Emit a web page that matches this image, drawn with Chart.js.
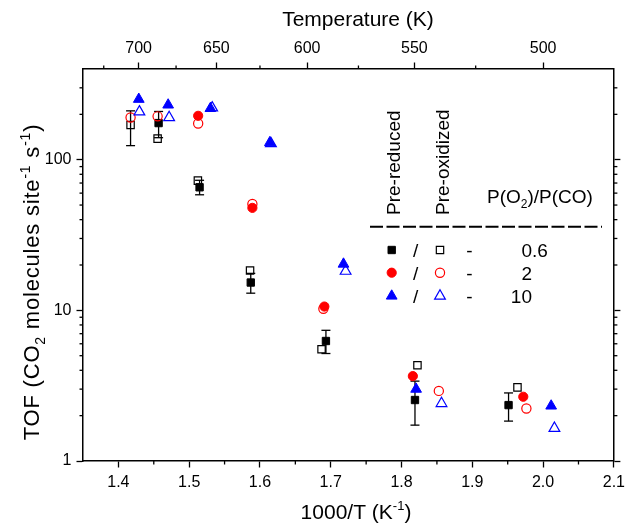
<!DOCTYPE html>
<html><head><meta charset="utf-8">
<script src="https://cdn.jsdelivr.net/npm/chart.js@4.4.1/dist/chart.umd.min.js"></script>
<style>html,body{margin:0;padding:0;background:#fff}#c{display:block}</style>
</head><body>
<canvas id="c" width="630" height="523"></canvas>
<script>
const FONT = '"Liberation Sans", Arial, Helvetica, sans-serif';

// ---- data (1000/T in K^-1, TOF in CO2 molecules site^-1 s^-1) ----
// Pre-reduced (filled symbols) / Pre-oxidized (open symbols)
const sqFilledX = [1.4568, 1.5147, 1.587, 1.6932, 1.819, 1.9512];
const sqFilledY = [175, 65.6, 15.3, 6.26, 2.54, 2.35];
const sqOpenX = [1.4172, 1.4554, 1.5123, 1.586, 1.687, 1.8225, 1.9638];
const sqOpenY = [170, 138, 72.6, 18.4, 5.52, 4.32, 3.08];
const circFilledX = [1.5127, 1.5893, 1.691, 1.816, 1.972];
const circFilledY = [195.6, 47.9, 10.6, 3.66, 2.67];
const circOpenX = [1.4172, 1.4554, 1.5127, 1.5893, 1.6896, 1.8527, 1.9764];
const circOpenY = [190.6, 194, 174, 50.9, 10.25, 2.92, 2.23];
const triFilledX = [1.4288, 1.4703, 1.530, 1.614, 1.718, 1.8206, 2.0114];
const triFilledY = [252, 231, 219, 130, 20.3, 3.0, 2.32];
const triOpenX = [1.4297, 1.4717, 1.5325, 1.6155, 1.721, 1.8565, 2.016];
const triOpenY = [208, 190.6, 221, 128, 18.2, 2.41, 1.65];
// error bars
const errX = [1.4172, 1.4568, 1.5147, 1.587, 1.6932, 1.819, 1.9512];
const errLow = [124, 140, 58.5, 13.0, 5.17, 1.73, 1.84];
const errHigh = [211, 209, 73, 17.6, 7.37, 3.39, 2.83];

// ---- ticks ----
const xTicks = [1.4, 1.5, 1.6, 1.7, 1.8, 1.9, 2.0, 2.1];
const xMinor = [1.45, 1.55, 1.65, 1.75, 1.85, 1.95, 2.05];
const tempTicks = [700, 650, 600, 550, 500];
const tempMinor = [725, 675, 625, 575, 525];
const yTicks = [1, 10, 100];
const yMinor = [2, 3, 4, 5, 6, 7, 8, 9, 20, 30, 40, 50, 60, 70, 80, 90, 200, 300];
const legendRatios = ['0.6', '2', '10'];

const X_MIN = 1.35, X_MAX = 2.1, Y_MIN = 1, Y_MAX = 400;

function pts(xs, ys) { return xs.map((x, i) => ({ x: x, y: ys[i] })); }

const BLACK = '#000000', RED = '#ff0000', BLUE = '#0000ff';
const R_SQ = 5.2, R_CI = 4.6, R_TR = 6.2;

function ds(label, xs, ys, style, color, filled, r, order) {
  return {
    label: label, data: pts(xs, ys), pointStyle: style, pointRadius: r,
    pointBorderColor: color, pointBackgroundColor: filled ? color : 'rgba(0,0,0,0)',
    pointBorderWidth: filled ? 1 : 1.2, showLine: false, order: order
  };
}

const datasets = [
  ds('Pre-oxidized 0.6', sqOpenX, sqOpenY, 'rect', BLACK, false, R_SQ, 6),
  ds('Pre-reduced 0.6', sqFilledX, sqFilledY, 'rect', BLACK, true, R_SQ, 5),
  ds('Pre-oxidized 2', circOpenX, circOpenY, 'circle', RED, false, R_CI, 4),
  ds('Pre-reduced 2', circFilledX, circFilledY, 'circle', RED, true, R_CI, 3),
  ds('Pre-oxidized 10', triOpenX, triOpenY, 'triangle', BLUE, false, R_TR, 2),
  ds('Pre-reduced 10', triFilledX, triFilledY, 'triangle', BLUE, true, R_TR, 1)
];

function line(ctx, x1, y1, x2, y2) { ctx.beginPath(); ctx.moveTo(x1, y1); ctx.lineTo(x2, y2); ctx.stroke(); }

// rich text: segments [text, kind] kind: n / sub / sup
function richWidth(ctx, segs, size) {
  let w = 0;
  segs.forEach(s => { ctx.font = (s[1] === 'n' ? size : Math.round(size * 0.62)) + 'px ' + FONT; w += ctx.measureText(s[0]).width; });
  return w;
}
function drawRich(ctx, segs, x, y, size) {
  let cx = x;
  ctx.textAlign = 'left'; ctx.textBaseline = 'alphabetic';
  segs.forEach(s => {
    const small = s[1] !== 'n';
    ctx.font = (small ? Math.round(size * 0.62) : size) + 'px ' + FONT;
    const dy = s[1] === 'sub' ? size * 0.26 : (s[1] === 'sup' ? -size * 0.42 : 0);
    ctx.fillText(s[0], cx, y + dy);
    cx += ctx.measureText(s[0]).width;
  });
}

function marker(ctx, style, x, y, r, color, filled) {
  ctx.save();
  ctx.beginPath();
  if (style === 'rect') {
    const s = r * Math.SQRT1_2;
    ctx.rect(x - s, y - s, 2 * s, 2 * s);
  } else if (style === 'circle') {
    ctx.arc(x, y, r, 0, Math.PI * 2);
  } else {
    const a = Math.PI * 2 / 3;
    ctx.moveTo(x, y - r);
    ctx.lineTo(x + Math.sin(a) * r, y - Math.cos(a) * r);
    ctx.lineTo(x + Math.sin(2 * a) * r, y - Math.cos(2 * a) * r);
    ctx.closePath();
  }
  ctx.strokeStyle = color;
  ctx.lineWidth = filled ? 1 : 1.2;
  if (filled) { ctx.fillStyle = color; ctx.fill(); }
  ctx.stroke();
  ctx.restore();
}

const errorBars = {
  id: 'errorBars',
  beforeDatasetsDraw(chart) {
    const ctx = chart.ctx, sx = chart.scales.x, sy = chart.scales.y;
    ctx.save();
    ctx.strokeStyle = '#000'; ctx.lineWidth = 1.3;
    errX.forEach((xv, i) => {
      const px = sx.getPixelForValue(xv);
      const p1 = sy.getPixelForValue(errLow[i]), p2 = sy.getPixelForValue(errHigh[i]);
      line(ctx, px, p1, px, p2);
      line(ctx, px - 4.5, p1, px + 4.5, p1);
      line(ctx, px - 4.5, p2, px + 4.5, p2);
    });
    ctx.restore();
  }
};

const decorations = {
  id: 'decorations',
  afterDraw(chart) {
    const ctx = chart.ctx;
    const { left, right, top, bottom } = chart.chartArea;
    const sx = chart.scales.x, sx2 = chart.scales.x2, sy = chart.scales.y;
    ctx.save();
    // minor ticks
    ctx.strokeStyle = '#000'; ctx.lineWidth = 1.3;
    const ml = 3.5;
    xMinor.forEach(v => { const p = sx.getPixelForValue(v); line(ctx, p, bottom, p, bottom + ml); });
    tempMinor.forEach(T => { const p = sx2.getPixelForValue(1000 / T); line(ctx, p, top, p, top - ml); });
    yMinor.forEach(v => {
      const p = sy.getPixelForValue(v);
      line(ctx, left, p, left - ml, p);
      line(ctx, right, p, right + ml, p);
    });

    ctx.fillStyle = '#000';
    // axis titles
    const TS = 21;
    let segs = [['Temperature (K)', 'n']];
    drawRich(ctx, segs, 358 - richWidth(ctx, segs, TS) / 2, 26, TS);
    segs = [['1000/T (K', 'n'], ['-1', 'sup'], [')', 'n']];
    drawRich(ctx, segs, 356 - richWidth(ctx, segs, TS) / 2, 519, TS);
    segs = [['TOF (CO', 'n'], ['2', 'sub'], [' molecules site', 'n'], ['-1', 'sup'], [' s', 'n'], ['-1', 'sup'], [')', 'n']];
    ctx.save();
    ctx.translate(39, 282);
    ctx.rotate(-Math.PI / 2);
    ctx.letterSpacing = '0.8px';
    drawRich(ctx, segs, -richWidth(ctx, segs, 22) / 2, 0, 22);
    ctx.letterSpacing = '0px';
    ctx.restore();

    // legend
    const LS = 19;
    ctx.font = LS + 'px ' + FONT;
    ctx.textBaseline = 'middle'; ctx.textAlign = 'left';
    [['Pre-reduced', 393.5], ['Pre-oxidized', 442.5]].forEach(([t, x]) => {
      ctx.save(); ctx.translate(x + 1, 215); ctx.rotate(-Math.PI / 2);
      ctx.fillText(t, 0, 0); ctx.restore();
    });
    drawRich(ctx, [['P(O', 'n'], ['2', 'sub'], [')/P(CO)', 'n']], 487, 203, LS);

    ctx.save();
    ctx.strokeStyle = '#000'; ctx.lineWidth = 2; ctx.setLineDash([13, 3.5]);
    line(ctx, 370, 226.7, 602, 226.7);
    ctx.restore();

    const rows = [250, 272.7, 296];
    const styles = [['rect', BLACK, R_SQ], ['circle', RED, R_CI], ['triangle', BLUE, R_TR]];
    ctx.font = LS + 'px ' + FONT;
    ctx.textBaseline = 'alphabetic';
    rows.forEach((ry, i) => {
      const [st, col, r] = styles[i];
      marker(ctx, st, 391.7, ry, r, col, true);
      marker(ctx, st, 440, ry, r, col, false);
      ctx.fillStyle = '#000';
      ctx.textAlign = 'center';
      ctx.fillText('/', 415.7, ry + 6.8);
      ctx.fillText('-', 469.3, ry + 6.8);
      const lab = legendRatios[i];
      const intPart = lab.split('.')[0];
      const rest = lab.slice(intPart.length);
      ctx.textAlign = 'right';
      ctx.fillText(intPart, 532, ry + 6.8);
      if (rest) { ctx.textAlign = 'left'; ctx.fillText(rest, 532, ry + 6.8); }
    });
    ctx.restore();
  }
};

const tickFont = { family: FONT, size: 16 };
const gridOpt = { display: true, drawOnChartArea: false, drawTicks: true, tickLength: 6.5, tickWidth: 1.3, tickColor: '#000' };
const borderOpt = { display: true, color: '#000', width: 1.5 };

new Chart(document.getElementById('c'), {
  type: 'scatter',
  data: { datasets: datasets },
  options: {
    responsive: false, animation: false, events: [],
    layout: { padding: 0 },
    plugins: { legend: { display: false }, tooltip: { enabled: false } },
    scales: {
      x: {
        type: 'linear', position: 'bottom', min: X_MIN, max: X_MAX,
        afterBuildTicks: s => { s.ticks = xTicks.map(v => ({ value: v })); },
        afterFit: s => { s.height = 62; },
        ticks: { font: tickFont, color: '#000', padding: 5, maxRotation: 0, autoSkip: false, callback: v => Number(v).toFixed(1) },
        grid: gridOpt, border: borderOpt
      },
      x2: {
        type: 'linear', position: 'top', min: X_MIN, max: X_MAX,
        afterBuildTicks: s => { s.ticks = tempTicks.map(T => ({ value: 1000 / T })); },
        afterFit: s => { s.height = 69; },
        ticks: { font: tickFont, color: '#000', padding: 4, maxRotation: 0, autoSkip: false, callback: v => String(Math.round(1000 / v)) },
        grid: gridOpt, border: borderOpt
      },
      y: {
        type: 'logarithmic', position: 'left', min: Y_MIN, max: Y_MAX,
        afterBuildTicks: s => { s.ticks = yTicks.map(v => ({ value: v })); },
        afterFit: s => { s.width = 83; },
        ticks: { font: tickFont, color: '#000', padding: 5, autoSkip: false, callback: v => String(v) },
        grid: gridOpt, border: borderOpt
      },
      y2: {
        type: 'logarithmic', position: 'right', min: Y_MIN, max: Y_MAX,
        afterBuildTicks: s => { s.ticks = yTicks.map(v => ({ value: v })); },
        afterFit: s => { s.width = 11; },
        ticks: { display: false },
        grid: gridOpt, border: borderOpt
      }
    }
  },
  plugins: [errorBars, decorations]
});
</script>
</body></html>
